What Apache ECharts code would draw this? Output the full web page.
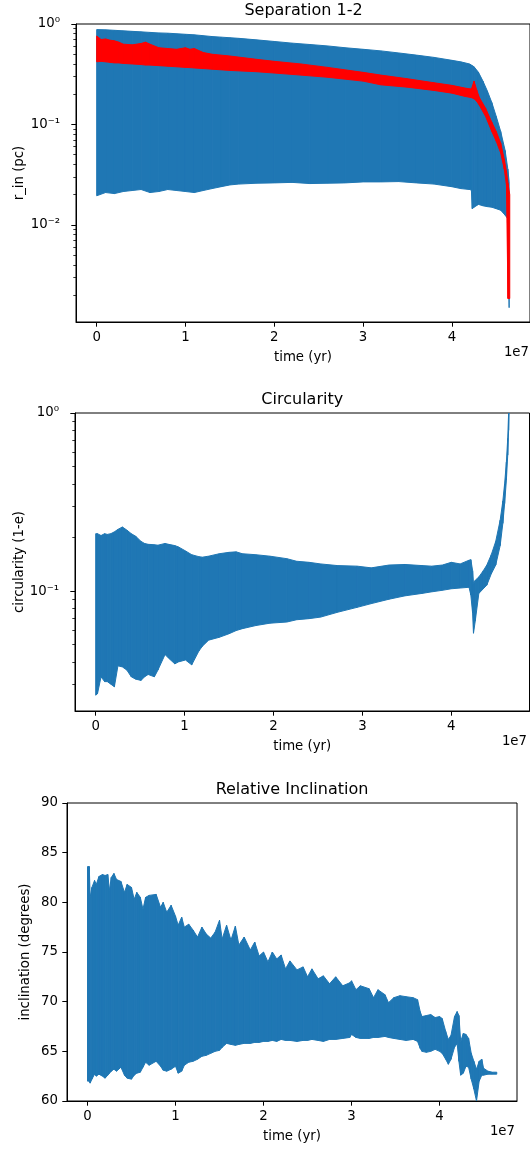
<!DOCTYPE html>
<html>
<head>
<meta charset="utf-8">
<script src="https://cdn.jsdelivr.net/npm/echarts@6/dist/echarts.min.js"></script>
<style>
html,body{margin:0;padding:0;background:#fff;}
#chart{width:530px;height:1150px;}
</style>
</head>
<body>
<div id="chart"></div>
<script>
// ---------- DATA (time in units of 1e7 yr) ----------
// Panel 1: Separation 1-2, blue envelope of r_in (pc)
const sepTime  = [0, 0.1, 0.2, 0.3, 0.4, 0.5, 0.6, 0.7, 0.8, 0.9, 1.0, 1.1, 1.2, 1.3, 1.4, 1.5, 1.6, 1.8, 2.0, 2.2, 2.4, 2.6, 2.8, 3.0, 3.2, 3.4, 3.6, 3.8, 4.0, 4.1, 4.2, 4.22, 4.23, 4.25, 4.3, 4.35, 4.4, 4.45, 4.5, 4.55, 4.6, 4.63, 4.645];
const sepUpper = [0.88, 0.875, 0.865, 0.855, 0.845, 0.835, 0.825, 0.815, 0.81, 0.80, 0.79, 0.78, 0.765, 0.75, 0.74, 0.73, 0.72, 0.695, 0.67, 0.645, 0.625, 0.605, 0.58, 0.56, 0.54, 0.515, 0.49, 0.465, 0.435, 0.42, 0.40, 0.39, 0.385, 0.375, 0.33, 0.27, 0.215, 0.165, 0.12, 0.085, 0.055, 0.036, 0.027];
const sepLower = [0.0195, 0.021, 0.0205, 0.0215, 0.022, 0.0225, 0.021, 0.0215, 0.0225, 0.022, 0.0215, 0.021, 0.022, 0.023, 0.024, 0.025, 0.0255, 0.026, 0.0262, 0.0265, 0.0258, 0.026, 0.0262, 0.0268, 0.0268, 0.027, 0.0262, 0.0255, 0.024, 0.023, 0.0225, 0.0222, 0.0145, 0.015, 0.016, 0.0155, 0.0152, 0.015, 0.0145, 0.014, 0.0125, 0.0115, 0.0015];
// Panel 1: red band
const redTime  = [0, 0.05, 0.1, 0.15, 0.2, 0.25, 0.3, 0.4, 0.5, 0.55, 0.6, 0.7, 0.8, 0.9, 1.0, 1.05, 1.1, 1.2, 1.3, 1.5, 1.8, 2.0, 2.3, 2.6, 3.0, 3.2, 3.5, 3.8, 4.0, 4.15, 4.22, 4.25, 4.28, 4.31, 4.38, 4.45, 4.5, 4.55, 4.59, 4.615, 4.632, 4.652];
const redUpper = [0.76, 0.70, 0.71, 0.69, 0.68, 0.66, 0.63, 0.62, 0.64, 0.66, 0.63, 0.58, 0.57, 0.56, 0.58, 0.56, 0.57, 0.52, 0.50, 0.48, 0.445, 0.425, 0.40, 0.37, 0.33, 0.31, 0.285, 0.26, 0.245, 0.23, 0.225, 0.27, 0.22, 0.185, 0.145, 0.105, 0.085, 0.065, 0.045, 0.034, 0.026, 0.02];
const redLower = [0.42, 0.425, 0.42, 0.415, 0.41, 0.41, 0.405, 0.40, 0.395, 0.39, 0.39, 0.385, 0.38, 0.375, 0.37, 0.368, 0.365, 0.36, 0.355, 0.345, 0.335, 0.325, 0.31, 0.295, 0.27, 0.248, 0.235, 0.218, 0.205, 0.19, 0.185, 0.18, 0.17, 0.155, 0.12, 0.085, 0.068, 0.052, 0.036, 0.025, 0.00185, 0.00185];

// Panel 2: Circularity (1-e) envelope
const circTime  = [0, 0.02, 0.06, 0.1, 0.13, 0.17, 0.21, 0.25, 0.3, 0.35, 0.4, 0.45, 0.51, 0.55, 0.59, 0.66, 0.7, 0.78, 0.82, 0.89, 0.93, 1.01, 1.08, 1.16, 1.2, 1.27, 1.39, 1.5, 1.58, 1.65, 1.8, 1.96, 2.15, 2.26, 2.4, 2.53, 2.72, 2.94, 3.1, 3.3, 3.48, 3.67, 3.78, 3.9, 4.0, 4.1, 4.2, 4.22, 4.24, 4.25, 4.27, 4.31, 4.36, 4.4, 4.45, 4.5, 4.55, 4.58, 4.6, 4.62, 4.635, 4.645, 4.65];
const circUpper = [0.21, 0.21, 0.205, 0.21, 0.208, 0.21, 0.215, 0.222, 0.229, 0.22, 0.21, 0.203, 0.19, 0.185, 0.183, 0.182, 0.181, 0.185, 0.183, 0.18, 0.177, 0.168, 0.16, 0.156, 0.155, 0.157, 0.162, 0.165, 0.166, 0.162, 0.16, 0.157, 0.152, 0.147, 0.145, 0.142, 0.139, 0.138, 0.135, 0.14, 0.141, 0.139, 0.138, 0.14, 0.145, 0.142, 0.149, 0.15, 0.13, 0.11, 0.115, 0.12, 0.13, 0.14, 0.16, 0.19, 0.25, 0.32, 0.40, 0.53, 0.72, 1.0, 1.3];
const circLower = [0.026, 0.0265, 0.033, 0.031, 0.031, 0.03, 0.029, 0.038, 0.0375, 0.036, 0.033, 0.032, 0.0315, 0.033, 0.034, 0.033, 0.036, 0.044, 0.042, 0.039, 0.04, 0.041, 0.0385, 0.046, 0.049, 0.053, 0.055, 0.0576, 0.06, 0.0615, 0.064, 0.066, 0.067, 0.069, 0.07, 0.0714, 0.076, 0.081, 0.085, 0.09, 0.094, 0.097, 0.099, 0.101, 0.103, 0.104, 0.105, 0.095, 0.075, 0.058, 0.068, 0.097, 0.103, 0.108, 0.125, 0.14, 0.18, 0.24, 0.31, 0.42, 0.58, 0.8, 1.0];

// Panel 3: Relative inclination (degrees) envelope
const incTime  = [0, 0.02, 0.03, 0.05, 0.08, 0.1, 0.13, 0.17, 0.2, 0.23, 0.25, 0.27, 0.3, 0.33, 0.38, 0.42, 0.45, 0.5, 0.53, 0.56, 0.6, 0.63, 0.66, 0.7, 0.78, 0.83, 0.86, 0.9, 0.95, 1.0, 1.03, 1.07, 1.1, 1.15, 1.2, 1.25, 1.3, 1.35, 1.4, 1.45, 1.5, 1.53, 1.58, 1.63, 1.68, 1.72, 1.78, 1.85, 1.9, 1.95, 2.0, 2.05, 2.1, 2.15, 2.2, 2.25, 2.3, 2.38, 2.45, 2.5, 2.55, 2.62, 2.68, 2.75, 2.82, 2.9, 2.98, 3.0, 3.05, 3.1, 3.2, 3.25, 3.3, 3.38, 3.42, 3.48, 3.55, 3.62, 3.7, 3.75, 3.78, 3.8, 3.85, 3.9, 3.95, 4.0, 4.03, 4.07, 4.1, 4.13, 4.17, 4.2, 4.22, 4.24, 4.27, 4.3, 4.33, 4.36, 4.39, 4.42, 4.45, 4.48, 4.5, 4.55, 4.6, 4.65];
const incUpper = [83.6, 83.6, 80.5, 81.5, 82.2, 81.8, 82.6, 82.8, 82.7, 82.8, 81.2, 82.5, 82.9, 82.3, 82.1, 81.0, 81.8, 81.5, 80.3, 81.0, 80.5, 79.3, 80.5, 80.7, 80.8, 79.5, 80.0, 79.0, 79.7, 78.6, 77.7, 78.5, 77.5, 77.8, 77.2, 76.5, 77.5, 76.8, 76.4, 77.0, 78.2, 76.3, 77.7, 76.2, 77.6, 75.7, 76.5, 75.2, 76.0, 74.6, 75.0, 74.0, 75.0, 74.3, 74.7, 73.3, 74.1, 73.2, 73.5, 72.5, 73.3, 72.3, 72.6, 71.8, 72.5, 71.6, 71.9, 72.1, 71.2, 71.6, 71.3, 70.4, 71.2, 70.7, 69.9, 70.4, 70.6, 70.5, 70.4, 70.2, 69.0, 68.5, 68.6, 68.7, 68.4, 68.5, 68.3, 67.0, 66.2, 66.6, 68.5, 69.0, 68.6, 66.0, 66.8, 66.7, 66.3, 64.8, 64.0, 63.2, 64.0, 64.2, 63.3, 63.0, 62.9, 62.9];
const incLower = [62.0, 62.0, 61.8, 62.2, 62.7, 62.5, 62.7, 62.5, 62.3, 62.6, 62.8, 63.0, 63.2, 63.0, 63.4, 62.6, 62.3, 62.2, 62.6, 62.8, 62.9, 63.4, 63.9, 63.6, 64.0, 63.5, 63.1, 63.0, 63.2, 63.5, 62.8, 63.0, 63.6, 63.9, 64.0, 64.2, 64.5, 64.6, 64.8, 65.0, 65.1, 65.4, 65.8, 65.7, 65.6, 65.7, 65.8, 65.8, 65.9, 65.9, 66.0, 66.0, 66.1, 66.0, 66.2, 66.1, 66.1, 66.0, 66.1, 66.1, 66.2, 66.1, 66.0, 66.2, 66.2, 66.3, 66.4, 66.7, 66.4, 66.3, 66.3, 66.4, 66.4, 66.5, 66.4, 66.3, 66.2, 66.1, 66.2, 66.0, 65.3, 65.0, 64.9, 65.0, 65.2, 65.0, 64.8, 64.2, 63.7, 64.2, 65.4, 65.8, 64.0, 62.6, 62.8, 63.5, 63.4, 62.2, 61.2, 60.0, 62.0, 62.6, 62.6, 62.7, 62.7, 62.7];

// Tick labels
const timeTicks = [0, 1, 2, 3, 4];
const sepMajorTicks = [0.01, 0.1, 1];
const circMajorTicks = [0.1, 1];
const minorLogTicks = [];
[0.001, 0.01, 0.1].forEach(function (d) { for (let k = 2; k <= 9; k++) minorLogTicks.push(+(d * k).toPrecision(3)); });

// ---------- STYLE ----------
const FONT = '"DejaVu Sans", Verdana, sans-serif';
const FS = 13.3;       // tick / axis label font size
const TFS = 16;        // title font size
const BLUE = '#1f77b4';
const RED = '#ff0000';
const INK = '#000000';
const SUP = {'0':'\u2070','1':'\u00B9','2':'\u00B2','3':'\u00B3','-':'\u207B'};
function logLabel(v) {
  const e = Math.round(Math.log10(v));
  return '10' + String(e).split('').map(function (c) { return SUP[c]; }).join('');
}

const grids = [
  {left: 76, top: 24, width: 455, height: 298},
  {left: 75, top: 413, width: 454.5, height: 298},
  {left: 67, top: 803, width: 450, height: 298}
];

const LINE = {show: true, onZero: false, lineStyle: {color: INK, width: 1}};

function xAxisFor(gi) {
  return {
    gridIndex: gi, type: 'value', min: -0.233, max: 4.88,
    axisLine: LINE,
    splitLine: {show: false},
    axisTick: {show: true, length: 4.7, customValues: timeTicks, lineStyle: {color: INK, width: 1}},
    axisLabel: {customValues: timeTicks, margin: 9.5, fontSize: FS, color: INK, fontFamily: FONT,
                formatter: function (v) { return String(v); }},
    name: 'time (yr)', nameLocation: 'middle', nameGap: 29, nameMoveOverlap: false,
    nameTextStyle: {fontSize: FS, color: INK, fontFamily: FONT}
  };
}
function logYAxis(gi, min, majors, name, gap) {
  return {
    gridIndex: gi, type: 'log', logBase: 10, min: min, max: 1, position: 'left',
    axisLine: LINE, splitLine: {show: false},
    axisTick: {show: true, length: 4.7, customValues: majors, lineStyle: {color: INK, width: 1}},
    axisLabel: {customValues: majors, margin: 16, fontSize: FS, color: INK, fontFamily: FONT, formatter: logLabel},
    name: name, nameLocation: 'middle', nameGap: gap, nameMoveOverlap: false,
    nameTextStyle: {fontSize: FS, color: INK, fontFamily: FONT}
  };
}
function minorYAxis(gi, min) {
  return {
    gridIndex: gi, type: 'log', logBase: 10, min: min, max: 1, position: 'left',
    axisLine: {show: false, onZero: false}, splitLine: {show: false}, axisLabel: {show: false},
    axisTick: {show: true, length: 2.7, customValues: minorLogTicks.filter(function (v) { return v > min && v < 1; }),
               lineStyle: {color: INK, width: 0.8}}
  };
}

function band(xi, yi, T, UP, LO, color, z) {
  return {
    type: 'custom', xAxisIndex: xi, yAxisIndex: yi, clip: true, z: z, silent: true,
    data: T.map(function (t, i) { return [t, UP[i], LO[i]]; }),
    encode: {x: 0, y: [1, 2]},
    renderItem: function (params, api) {
      const i = params.dataIndex;
      if (i >= T.length - 1) return null;
      const a = api.coord([api.value(0), api.value(1)]);
      const b = api.coord([T[i + 1], UP[i + 1]]);
      const c = api.coord([T[i + 1], LO[i + 1]]);
      const d = api.coord([api.value(0), api.value(2)]);
      return {type: 'polygon', shape: {points: [a, b, c, d]},
              style: {fill: color, stroke: color, lineWidth: 1}};
    }
  };
}

const titles = [
  {text: 'Separation 1-2', x: 76 + 455 / 2, y: 11},
  {text: 'Circularity', x: 75 + 454.5 / 2, y: 400},
  {text: 'Relative Inclination', x: 67 + 450 / 2, y: 790}
];
const offsets = [
  {x: 529, y: 353}, {x: 527, y: 742}, {x: 515, y: 1132}
];

const option = {
  backgroundColor: '#ffffff',
  animation: false,
  grid: grids.map(function (g) {
    return Object.assign({show: true, borderColor: INK, borderWidth: 1, backgroundColor: 'transparent', containLabel: false}, g);
  }),
  xAxis: [xAxisFor(0), xAxisFor(1), xAxisFor(2)],
  yAxis: [
    logYAxis(0, 0.00108, sepMajorTicks, 'r_in (pc)', 49.5),
    minorYAxis(0, 0.00108),
    logYAxis(1, 0.0212, circMajorTicks, 'circularity (1-e)', 48.5),
    minorYAxis(1, 0.0212),
    {
      gridIndex: 2, type: 'value', min: 60, max: 90, interval: 5,
      axisLine: LINE, splitLine: {show: false},
      axisTick: {show: true, length: 4.7, lineStyle: {color: INK, width: 1}},
      axisLabel: {margin: 9, fontSize: FS, color: INK, fontFamily: FONT},
      name: 'inclination (degrees)', nameLocation: 'middle', nameGap: 34.5, nameMoveOverlap: false,
      nameTextStyle: {fontSize: FS, color: INK, fontFamily: FONT}
    }
  ],
  series: [
    band(0, 0, sepTime, sepUpper, sepLower, BLUE, 2),
    band(0, 0, redTime, redUpper, redLower, RED, 3),
    band(1, 2, circTime, circUpper, circLower, BLUE, 2),
    band(2, 4, incTime, incUpper, incLower, BLUE, 2)
  ],
  graphic: titles.map(function (t) {
    return {type: 'text', x: t.x, y: t.y, silent: true,
            style: {text: t.text, fill: INK, font: TFS + 'px ' + FONT, align: 'center', verticalAlign: 'middle'}};
  }).concat(offsets.map(function (o) {
    return {type: 'text', x: o.x, y: o.y, silent: true,
            style: {text: '1e7', fill: INK, font: FS + 'px ' + FONT, align: 'right', verticalAlign: 'middle'}};
  }))
};

const chart = echarts.init(document.getElementById('chart'), null, {renderer: 'canvas'});
chart.setOption(option);
</script>
</body>
</html>
